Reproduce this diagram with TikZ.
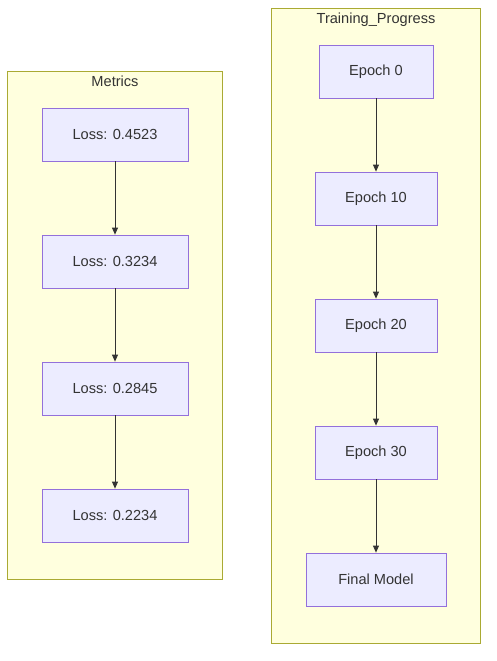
\documentclass[tikz,border=0pt]{standalone}
\usepackage{fontspec}
\setmainfont{Liberation Sans}
\usepackage{xcolor}
\usepackage{tikz}
\usetikzlibrary{arrows.meta, positioning, fit, backgrounds}

\definecolor{nodefill}{HTML}{ECECFF}
\definecolor{nodeline}{HTML}{9370DB}
\definecolor{clusterfill}{HTML}{FFFFDE}
\definecolor{clusterline}{HTML}{AAAA33}
\definecolor{txt}{HTML}{333333}

\begin{document}
\begin{tikzpicture}[
    x=1pt, y=1pt,
    node distance=73.2pt,
    box/.style={rectangle, draw=nodeline, fill=nodefill, line width=0.8pt, minimum height=53pt, inner sep=2pt, align=center, text=txt, font=\fontsize{14.6}{16}\selectfont},
    cluster/.style={rectangle, draw=clusterline, fill=clusterfill, line width=0.8pt, inner xsep=34pt, inner ysep=36.5pt},
    ctitle/.style={anchor=north, text=txt, inner sep=0pt, font=\fontsize{14.6}{16}\selectfont},
    arr/.style={-{Triangle[length=7pt, width=6pt]}, line width=0.8pt, color=txt}
]
\useasboundingbox (0,0) rectangle (497,-661);

% metrics column
\node[box, minimum width=146pt] (loss1) at (115,-134.5) {Loss: 0.4523};
\node[box, minimum width=146pt, below=of loss1] (loss2) {Loss: 0.3234};
\node[box, minimum width=146pt, below=of loss2] (loss3) {Loss: 0.2845};
\node[box, minimum width=146pt, below=of loss3] (loss4) {Loss: 0.2234};

% training column
\node[box, minimum width=114pt] (ep0) at (376,-71.5) {Epoch 0};
\node[box, minimum width=122pt, below=of ep0] (ep10) {Epoch 10};
\node[box, minimum width=122pt, below=of ep10] (ep20) {Epoch 20};
\node[box, minimum width=122pt, below=of ep20] (ep30) {Epoch 30};
\node[box, minimum width=140pt, below=of ep30] (final) {Final Model};

\begin{scope}[on background layer]
\node[cluster, fit=(loss1)(loss4)] (metrics) {};
\node[cluster, fit=(ep0)(final)(ep10)] (training) {};
\end{scope}
\node[ctitle, below=5pt of metrics.north] (metricsLbl) {Metrics};
\node[ctitle, below=5pt of training.north] (trainingLbl) {Training\_Progress};

\draw[arr] (loss1) -- (loss2);
\draw[arr] (loss2) -- (loss3);
\draw[arr] (loss3) -- (loss4);

\draw[arr] (ep0) -- (ep10);
\draw[arr] (ep10) -- (ep20);
\draw[arr] (ep20) -- (ep30);
\draw[arr] (ep30) -- (final);

\end{tikzpicture}
\end{document}
